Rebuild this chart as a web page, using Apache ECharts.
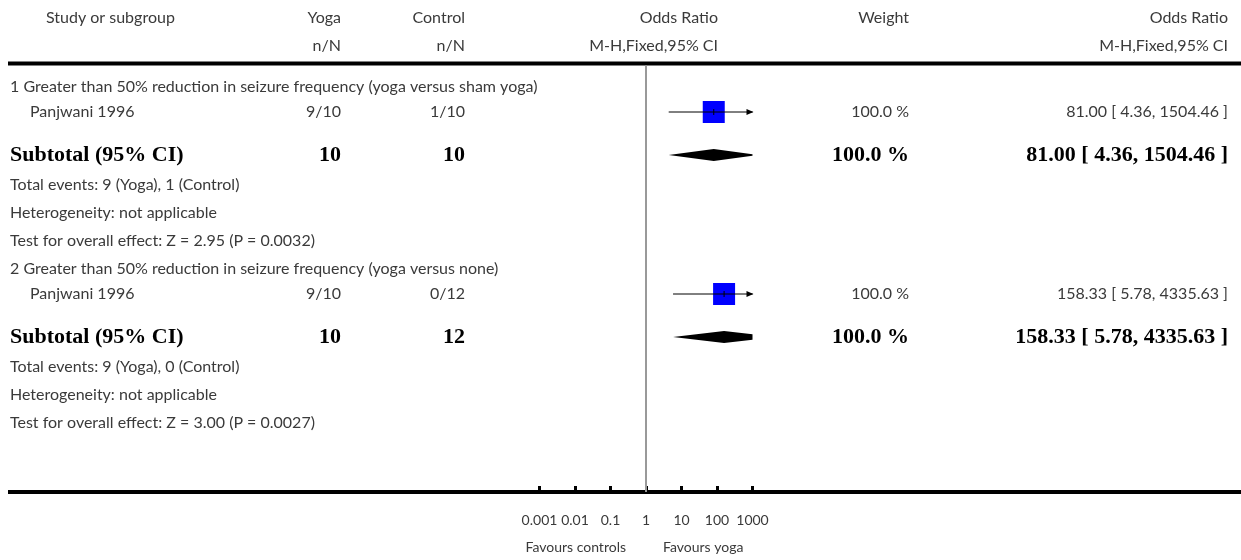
<!DOCTYPE html>
<html>
<head>
<meta charset="utf-8">
<script src="https://cdn.jsdelivr.net/npm/echarts@6/dist/echarts.min.js"></script>
<style>
html, body { margin: 0; padding: 0; background: #fff; }
#chart { width: 1241px; height: 560px; }
</style>
</head>
<body>
<div id="chart"></div>
<script>
// values
const groupTitles = [
  '1 Greater than 50% reduction in seizure frequency (yoga versus sham yoga)',
  '2 Greater than 50% reduction in seizure frequency (yoga versus none)'
]
const studyNames = ['Panjwani 1996', 'Panjwani 1996']
const yogaEvents = [9, 9]
const yogaTotals = [10, 10]
const controlEvents = [1, 0]
const controlTotals = [10, 12]
const studyOR = [81.00, 158.33]
const studyLow = [4.36, 5.78]
const studyHigh = [1504.46, 4335.63]
const studyWeight = [100.0, 100.0]
const subtotalOR = [81.00, 158.33]
const subtotalLow = [4.36, 5.78]
const subtotalHigh = [1504.46, 4335.63]
const heterogeneity = ['not applicable', 'not applicable']
const zValues = ['2.95', '3.00']
const pValues = ['0.0032', '0.0027']
const axisTicks = [0.001, 0.01, 0.1, 1, 10, 100, 1000]
const favoursLabels = ['Favours controls', 'Favours yoga']

// layout
const W = 1241
const H = 560
const LINE_TOP = 63.5
const LINE_BOTTOM = 492
const X_LEFT = 10
const X_STUDY = 30
const X_HEAD = 46
const X_YOGA = 341
const X_CTRL = 465
const X_OR_HEAD = 718
const X_WEIGHT = 909
const X_RIGHT = 1228
const PLOT_L = 539.5
const PLOT_R = 752.5
const AXIS_MIN = axisTicks[0]
const AXIS_MAX = axisTicks[axisTicks.length - 1]
const X_ONE = (PLOT_L + PLOT_R) / 2

const FAMILY = 'Lato, "Open Sans", sans-serif'
const FONT = '16px ' + FAMILY
const FONT_SMALL = '14px ' + FAMILY
const FONT_BOLD = 'bold 22px "Liberation Serif", "DejaVu Serif", serif'
const TXT = '#3a3a3a'

const fmt2 = (v) => v.toFixed(2)
const ciText = (o, l, h) => `${fmt2(o)} [ ${fmt2(l)}, ${fmt2(h)} ]`

// row positions
const rows = []
let cy = 87
groupTitles.forEach((t, i) => {
  rows.push({ kind: 'title', y: cy, i }); cy += 25
  rows.push({ kind: 'study', y: cy, i }); cy += 43
  rows.push({ kind: 'subtotal', y: cy, i }); cy += 30
  rows.push({ kind: 'events', y: cy, i }); cy += 28
  rows.push({ kind: 'het', y: cy, i }); cy += 28
  rows.push({ kind: 'test', y: cy, i }); cy += 28
})

function txt(text, x, y, align, font, color) {
  return {
    type: 'text',
    silent: true,
    style: {
      text, x, y,
      align: align, textAlign: align,
      verticalAlign: 'middle', textVerticalAlign: 'middle',
      font: font || FONT,
      fill: color || TXT
    }
  }
}

const graphics = [
  // header
  txt('Study or subgroup', X_HEAD, 18, 'left'),
  txt('Yoga', X_YOGA, 18, 'right'),
  txt('Control', X_CTRL, 18, 'right'),
  txt('Odds Ratio', X_OR_HEAD, 18, 'right'),
  txt('Weight', X_WEIGHT, 18, 'right'),
  txt('Odds Ratio', X_RIGHT, 18, 'right'),
  txt('n/N', X_YOGA, 46, 'right'),
  txt('n/N', X_CTRL, 46, 'right'),
  txt('M-H,Fixed,95% CI', X_OR_HEAD, 46, 'right'),
  txt('M-H,Fixed,95% CI', X_RIGHT, 46, 'right'),
  { type: 'line', silent: true, shape: { x1: 8, y1: LINE_TOP, x2: W, y2: LINE_TOP }, style: { stroke: '#000', lineWidth: 4 } },
  { type: 'line', silent: true, shape: { x1: 8, y1: LINE_BOTTOM, x2: W, y2: LINE_BOTTOM }, style: { stroke: '#000', lineWidth: 4 } },
  txt(favoursLabels[0], X_ONE - 20, 547, 'right', FONT_SMALL),
  txt(favoursLabels[1], X_ONE + 17, 547, 'left', FONT_SMALL)
]

rows.forEach((r) => {
  const i = r.i
  if (r.kind === 'title') {
    graphics.push(txt(groupTitles[i], X_LEFT, r.y, 'left'))
  } else if (r.kind === 'study') {
    graphics.push(txt(studyNames[i], X_STUDY, r.y, 'left'))
    graphics.push(txt(`${yogaEvents[i]}/${yogaTotals[i]}`, X_YOGA, r.y, 'right'))
    graphics.push(txt(`${controlEvents[i]}/${controlTotals[i]}`, X_CTRL, r.y, 'right'))
    graphics.push(txt(`${studyWeight[i].toFixed(1)} %`, X_WEIGHT, r.y, 'right'))
    graphics.push(txt(ciText(studyOR[i], studyLow[i], studyHigh[i]), X_RIGHT, r.y, 'right'))
  } else if (r.kind === 'subtotal') {
    graphics.push(txt('Subtotal (95% CI)', X_LEFT, r.y, 'left', FONT_BOLD, '#000'))
    graphics.push(txt(String(yogaTotals[i]), X_YOGA, r.y, 'right', FONT_BOLD, '#000'))
    graphics.push(txt(String(controlTotals[i]), X_CTRL, r.y, 'right', FONT_BOLD, '#000'))
    graphics.push(txt(`${studyWeight[i].toFixed(1)} %`, X_WEIGHT, r.y, 'right', FONT_BOLD, '#000'))
    graphics.push(txt(ciText(subtotalOR[i], subtotalLow[i], subtotalHigh[i]), X_RIGHT, r.y, 'right', FONT_BOLD, '#000'))
  } else if (r.kind === 'events') {
    graphics.push(txt(`Total events: ${yogaEvents[i]} (Yoga), ${controlEvents[i]} (Control)`, X_LEFT, r.y, 'left'))
  } else if (r.kind === 'het') {
    graphics.push(txt(`Heterogeneity: ${heterogeneity[i]}`, X_LEFT, r.y, 'left'))
  } else if (r.kind === 'test') {
    graphics.push(txt(`Test for overall effect: Z = ${zValues[i]} (P = ${pValues[i]})`, X_LEFT, r.y, 'left'))
  }
})

// marks: [or, low, high, y, weight, kind] kind 0 = study, 1 = subtotal
const markData = []
rows.forEach((r) => {
  const i = r.i
  if (r.kind === 'study') markData.push([studyOR[i], studyLow[i], studyHigh[i], r.y, studyWeight[i], 0])
  if (r.kind === 'subtotal') markData.push([subtotalOR[i], subtotalLow[i], subtotalHigh[i], r.y, 100, 1])
})

function renderItem(params, api) {
  const or = api.value(0)
  const lo = api.value(1)
  const hi = api.value(2)
  const yv = api.value(3)
  const w = api.value(4)
  const kind = api.value(5)
  const pL = api.coord([Math.max(lo, AXIS_MIN), yv])
  const pR = api.coord([Math.min(hi, AXIS_MAX), yv])
  const pC = api.coord([or, yv])
  if (kind === 1) {
    // diamond, cut flat where it runs past the axis end
    const h = 6
    let pts
    if (hi > AXIS_MAX) {
      const f = (Math.log10(hi) - Math.log10(AXIS_MAX)) / (Math.log10(hi) - Math.log10(or))
      pts = [pL, [pC[0], pC[1] - h], [pR[0], pR[1] - h * f], [pR[0], pR[1] + h * f], [pC[0], pC[1] + h]]
    } else {
      pts = [pL, [pC[0], pC[1] - h], pR, [pC[0], pC[1] + h]]
    }
    return { type: 'polygon', shape: { points: pts }, style: { fill: '#000' } }
  }
  const s = 22 * Math.sqrt(w / 100)
  const children = [
    { type: 'rect', shape: { x: pC[0] - s / 2, y: pC[1] - s / 2, width: s, height: s }, style: { fill: '#0000ff' } },
    { type: 'line', shape: { x1: pL[0], y1: pL[1], x2: pR[0], y2: pR[1] }, style: { stroke: '#000', lineWidth: 1 } },
    { type: 'line', shape: { x1: pC[0], y1: pC[1] - 3, x2: pC[0], y2: pC[1] + 3 }, style: { stroke: '#000', lineWidth: 1 } }
  ]
  if (hi > AXIS_MAX) {
    children.push({
      type: 'polygon',
      shape: { points: [[pR[0] + 1, pR[1]], [pR[0] - 6, pR[1] - 3], [pR[0] - 6, pR[1] + 3]] },
      style: { fill: '#000' }
    })
  }
  return { type: 'group', children }
}

const GRID_TOP = LINE_TOP + 2

const chart = echarts.init(document.getElementById('chart'), null, { renderer: 'canvas' })
chart.setOption({
  animation: false,
  grid: {
    left: PLOT_L,
    right: W - PLOT_R,
    top: GRID_TOP,
    bottom: H - LINE_BOTTOM,
    containLabel: false
  },
  xAxis: {
    type: 'log',
    logBase: 10,
    min: AXIS_MIN,
    max: AXIS_MAX,
    splitNumber: 6,
    axisLine: { show: false },
    axisTick: { show: true, inside: true, length: 6, lineStyle: { color: '#000', width: 3 } },
    axisLabel: {
      margin: 21,
      color: TXT,
      fontSize: 14,
      fontFamily: FAMILY,
      formatter(v) {
        const e = Math.round(Math.log10(v))
        const t = axisTicks.find((a) => Math.round(Math.log10(a)) === e)
        return t != null ? String(t) : ''
      }
    },
    splitLine: { show: false }
  },
  yAxis: {
    type: 'value',
    inverse: true,
    min: GRID_TOP,
    max: LINE_BOTTOM,
    show: false
  },
  graphic: graphics,
  series: [{
    type: 'custom',
    renderItem,
    data: markData,
    encode: { x: 0, y: 3 },
    silent: true,
    z: 5,
    markLine: {
      silent: true,
      symbol: 'none',
      label: { show: false },
      lineStyle: { color: '#999', width: 2, type: 'solid' },
      data: [{ xAxis: 1 }]
    }
  }]
})
</script>
</body>
</html>
